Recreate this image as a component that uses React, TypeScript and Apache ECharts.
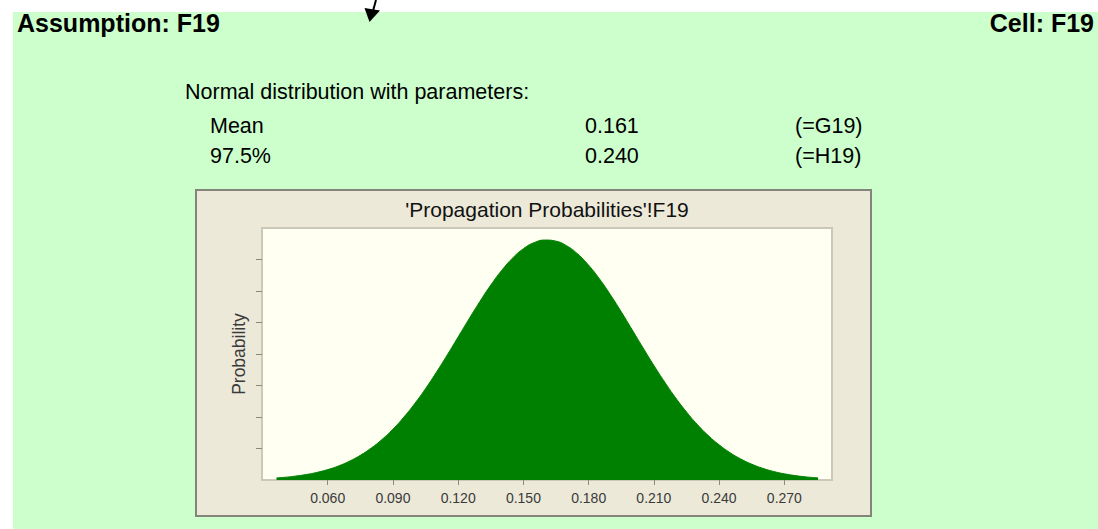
import React, { useEffect, useRef } from "react";
import * as echarts from "echarts";

// Values
const xValues = [
  0.0365, 0.04, 0.045, 0.05, 0.055, 0.06, 0.065, 0.07, 0.075, 0.08, 0.085, 0.09, 0.095,
  0.1, 0.105, 0.11, 0.115, 0.12, 0.125, 0.13, 0.135, 0.14, 0.145, 0.15, 0.155, 0.16,
  0.165, 0.17, 0.175, 0.18, 0.185, 0.19, 0.195, 0.2, 0.205, 0.21, 0.215, 0.22, 0.225,
  0.23, 0.235, 0.24, 0.245, 0.25, 0.255, 0.26, 0.265, 0.27, 0.275, 0.28, 0.285, 0.2855,
];
const probValues = [
  0.00032, 0.00042, 0.00061, 0.00086, 0.0012, 0.00165, 0.00223, 0.00298, 0.00391, 0.00506,
  0.00644, 0.00807, 0.00997, 0.01212, 0.0145, 0.01711, 0.01986, 0.02271, 0.02557, 0.02834,
  0.03094, 0.03326, 0.03521, 0.03671, 0.03768, 0.03809, 0.03791, 0.03716, 0.03587, 0.03409,
  0.03191, 0.02941, 0.02669, 0.02385, 0.02099, 0.01819, 0.01553, 0.01305, 0.0108, 0.0088,
  0.00706, 0.00558, 0.00434, 0.00333, 0.00251, 0.00186, 0.00136, 0.00098, 0.0007, 0.00049,
  0.00034, 0.00032,
];
const xTickValues = [0.06, 0.09, 0.12, 0.15, 0.18, 0.21, 0.24, 0.27];
const yTickValues = [0.005, 0.01, 0.015, 0.02, 0.025, 0.03, 0.035];

const headerLeft = "Assumption: F19";
const headerRight = "Cell: F19";
const paramTitle = "Normal distribution with parameters:";
const paramNames = ["Mean", "97.5%"];
const paramValues = ["0.161", "0.240"];
const paramRefs = ["(=G19)", "(=H19)"];
const chartTitle = "'Propagation Probabilities'!F19";
const yName = "Probability";

const FONT = "'Liberation Sans', Arial, sans-serif";

export default function App() {
  const ref = useRef<HTMLDivElement>(null);

  useEffect(() => {
    if (!ref.current) return;
    const chart = echarts.init(ref.current, undefined, { renderer: "svg" });

    const paramRows = [126, 156];
    const graphics: any[] = [
      { type: "rect", z: -10, silent: true, shape: { x: 13, y: 12, width: 1085, height: 517 }, style: { fill: "#ccffcc" } },
      { type: "rect", z: -9, silent: true, shape: { x: 196, y: 190, width: 675, height: 326 }, style: { fill: "#ece9d9", stroke: "#85847a", lineWidth: 2 } },
      { type: "line", z: 5, shape: { x1: 376, y1: 0, x2: 373, y2: 11 }, style: { stroke: "#000", lineWidth: 2 } },
      { type: "polygon", z: 5, shape: { points: [[364.5, 8], [380, 10.5], [369.5, 22]] }, style: { fill: "#000" } },
      { type: "text", z: 5, x: 17, y: 23, style: { text: headerLeft, font: `bold 25px ${FONT}`, fill: "#000", align: "left", verticalAlign: "middle" } },
      { type: "text", z: 5, x: 1094, y: 23, style: { text: headerRight, font: `bold 25px ${FONT}`, fill: "#000", align: "right", verticalAlign: "middle" } },
      { type: "text", z: 5, x: 185, y: 92, style: { text: paramTitle, font: `21.5px ${FONT}`, fill: "#000", align: "left", verticalAlign: "middle" } },
      { type: "text", z: 5, x: 547, y: 209, style: { text: chartTitle, font: `21px ${FONT}`, fill: "#111", align: "center", verticalAlign: "middle" } },
    ];
    paramNames.forEach((n, i) => {
      const y = paramRows[i];
      graphics.push({ type: "text", z: 5, x: 210, y, style: { text: n, font: `21.5px ${FONT}`, fill: "#000", align: "left", verticalAlign: "middle" } });
      graphics.push({ type: "text", z: 5, x: 585, y, style: { text: paramValues[i], font: `21.5px ${FONT}`, fill: "#000", align: "left", verticalAlign: "middle" } });
      graphics.push({ type: "text", z: 5, x: 795, y, style: { text: paramRefs[i], font: `21.5px ${FONT}`, fill: "#000", align: "left", verticalAlign: "middle" } });
    });

    chart.setOption({
      animation: false,
      backgroundColor: "transparent",
      textStyle: { fontFamily: FONT },
      grid: {
        left: 262,
        top: 228,
        width: 570,
        height: 252,
        show: true,
        backgroundColor: "#fffff2",
        borderColor: "#cbc7b9",
        borderWidth: 2,
        containLabel: false,
      },
      xAxis: {
        type: "value",
        min: 0.0298,
        max: 0.2919,
        splitLine: { show: false },
        axisLine: { show: false },
        axisTick: { show: true, customValues: xTickValues, length: 5, lineStyle: { color: "#8c8a80", width: 1 } },
        axisLabel: {
          show: true,
          customValues: xTickValues,
          formatter: (v: number) => v.toFixed(3),
          fontSize: 14,
          color: "#3a3a3a",
          margin: 11,
          fontFamily: FONT,
        },
      },
      yAxis: {
        type: "value",
        min: 0,
        max: 0.04,
        name: yName,
        nameLocation: "middle",
        nameRotate: 90,
        nameGap: 14,
        nameTextStyle: { fontSize: 17.5, color: "#3a3a3a", fontFamily: FONT },
        splitLine: { show: false },
        axisLine: { show: false },
        axisTick: { show: true, customValues: yTickValues, length: 6, lineStyle: { color: "#8c8a80", width: 1 } },
        axisLabel: { show: false },
      },
      graphic: graphics,
      series: [
        {
          type: "line",
          data: xValues.map((x, i) => [x, probValues[i]]),
          smooth: true,
          symbol: "none",
          lineStyle: { color: "#008000", width: 1 },
          areaStyle: { color: "#008000", opacity: 1 },
          itemStyle: { color: "#008000" },
        },
      ],
    });

    return () => chart.dispose();
  }, []);

  return (
    <div
      style={{ position: "absolute", left: 0, top: 0, width: 1098, height: 529, background: "#ffffff" }}
    >
      <div ref={ref} style={{ width: 1098, height: 529 }} />
    </div>
  );
}
